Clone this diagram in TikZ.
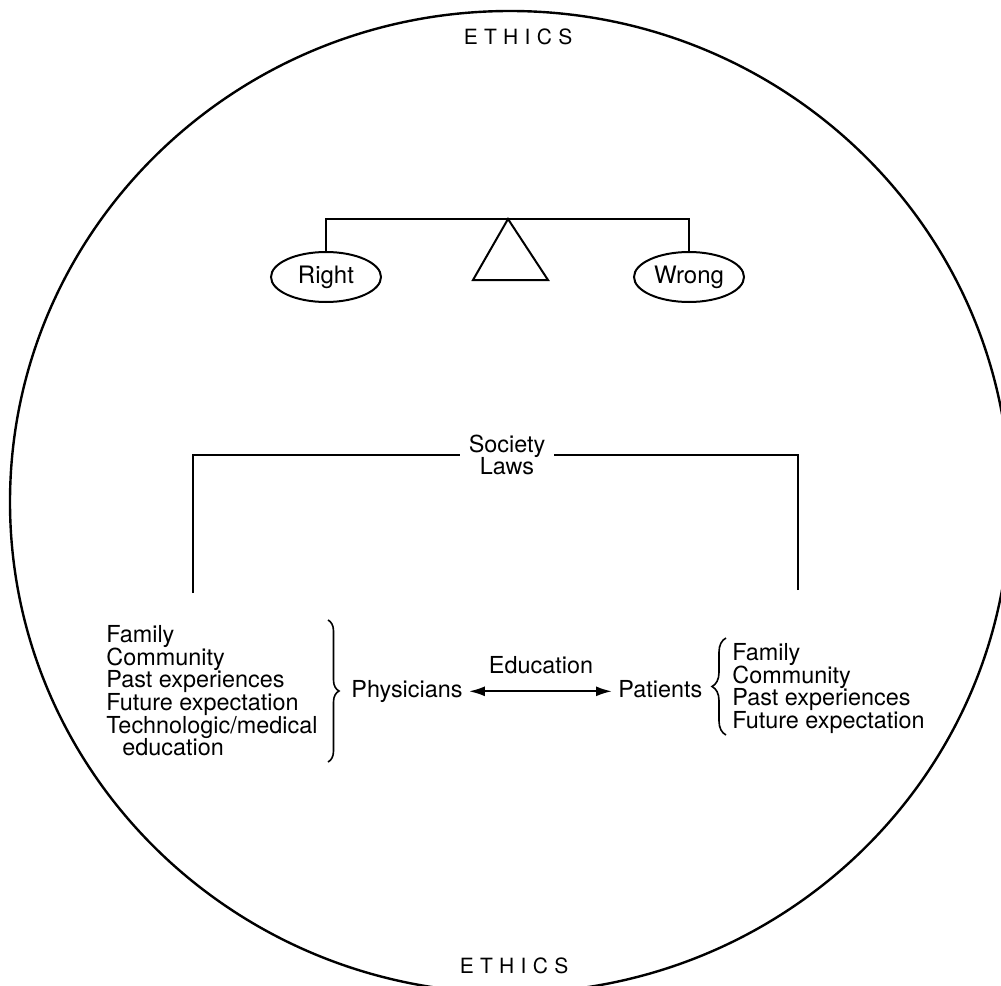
\documentclass[tikz,border=0pt]{standalone}
\usepackage{fontspec}
\setmainfont{TeX Gyre Heros}
\usetikzlibrary{shapes.geometric,decorations.pathreplacing,arrows.meta}
\begin{document}
\begin{tikzpicture}[x=0.5pt,y=-0.5pt,
  lw/.style={line width=1pt},
  txt/.style={font=\fontsize{11.7}{11.35}\selectfont, inner sep=0pt},
  listnode/.style={txt, align=left, anchor=north west},
  ethics/.style={font=\fontsize{10.5}{12}\selectfont\addfontfeature{LetterSpace=30}, inner sep=0pt},
  pan/.style={draw, lw, ellipse, minimum width=55pt, minimum height=25pt, inner sep=0pt, font=\fontsize{12}{12}\selectfont},
  actor/.style={txt, anchor=base west, inner xsep=3pt, text height=8pt, text depth=2.3pt},
  bracestyle/.style={line width=0.8pt, decorate},
  arr/.style={lw, {Latex[length=8pt,width=5pt]}-{Latex[length=8pt,width=5pt]}}
]
\useasboundingbox (0,0) rectangle (1001,985);
\begin{scope}
  \clip (0,0) rectangle (1001,985);
  \draw[line width=1.2pt] (510,502) ellipse [x radius=250pt, y radius=245.5pt];
\end{scope}

% ETHICS labels
\node[ethics] (etop) at (518,37) {ETHICS};
\node[ethics] (ebot) at (514,966) {ETHICS};

% balance
\node[pan] (right) at (326,277) {Right};
\node[pan] (wrong) at (689,277) {Wrong};
\coordinate (beam) at (508,219);
\draw[lw] (right.north) -- (right.north |- beam) -- (wrong.north |- beam) -- (wrong.north);
\draw[lw, line join=miter] (beam) -- (548,280) -- (473,280) -- cycle;

% Society / Laws
\node[txt, align=center, inner xsep=4pt] (sl) at (507,455) {Society\\Laws};
\coordinate (lb) at (193,593);
\coordinate (rb) at (798,590);
\draw[lw] (lb) |- (sl.west);
\draw[lw] (rb) |- (sl.east);

% left list
\node[listnode] (plist) at (106,625) {Family\\Community\\Past experiences\\Future expectation\\Technologic/medical\\\hspace*{8pt}education};
\coordinate (lbt) at (328,620);
\coordinate (lbb) at (328,762);
\draw[bracestyle, decoration={brace, amplitude=5.5pt}] (lbt) -- (lbb);

% actors
\node[actor] (ph) at (345,697) {Physicians};
\node[actor] (pa) at (612,697) {Patients};
\draw[arr] (ph.east) -- (pa.west);
\node[txt, anchor=base] (edu) at (541,673) {Education};

% right list
\coordinate (rbt) at (726,638);
\coordinate (rbb) at (726,735);
\draw[bracestyle, decoration={brace, amplitude=7pt}] (rbb) -- (rbt);
\node[listnode] (tlist) at (732,643) {Family\\Community\\Past experiences\\Future expectation};
\end{tikzpicture}
\end{document}
